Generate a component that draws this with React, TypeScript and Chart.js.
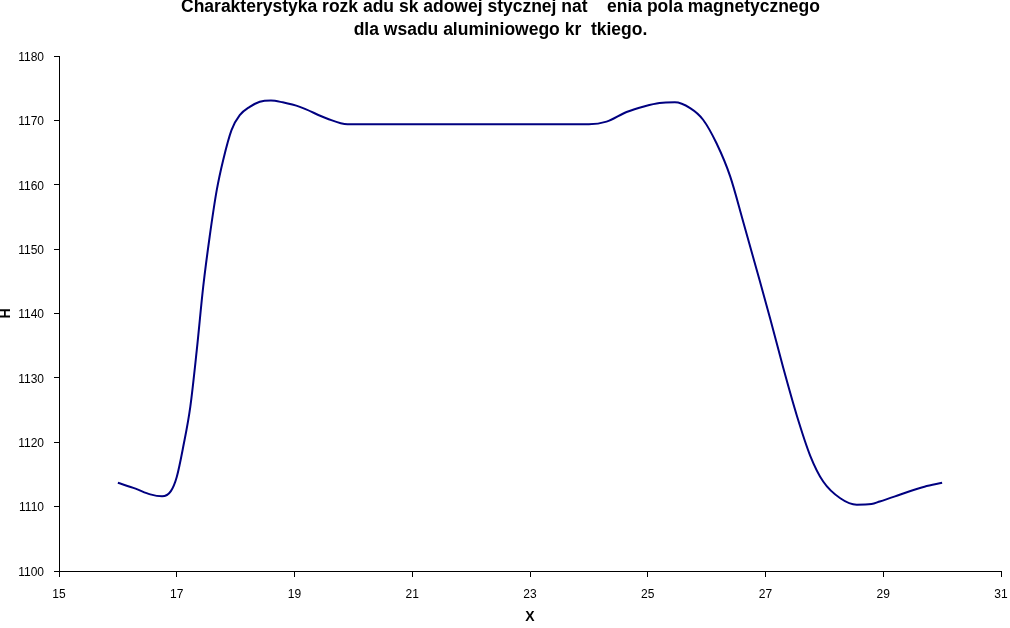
import React, { useEffect, useRef } from "react";
import { Chart, registerables } from "chart.js";

Chart.register(...registerables);

const titleLines = [
  "Charakterystyka rozk adu sk adowej stycznej nat    enia pola magnetycznego",
  "dla wsadu aluminiowego kr  tkiego.",
];
const xAxisTitle = "X";
const yAxisTitle = "H";

const xValues = [
  16, 16.3, 16.55, 16.75, 16.9, 17.0, 17.11, 17.23, 17.34, 17.45, 17.56, 17.68, 17.79,
  17.93, 18.07, 18.24, 18.41, 18.6, 18.8, 19.09, 19.55, 19.9, 20.5, 21, 22, 23, 24,
  24.3, 24.64, 24.95, 25.2, 25.46, 25.72, 25.94, 26.17, 26.4, 26.62, 26.85, 27.08,
  27.3, 27.53, 27.76, 27.98, 28.27, 28.55, 28.8, 28.94, 29.2, 29.45, 29.7, 30,
];
const hValues = [
  1113.7, 1112.8, 1111.9, 1111.6, 1112.4, 1114.6, 1119.3, 1125.5, 1134.3, 1144.2,
  1152.0, 1159.2, 1163.9, 1168.5, 1170.8, 1172.1, 1172.9, 1173.1, 1172.8, 1172.1,
  1170.3, 1169.4, 1169.4, 1169.4, 1169.4, 1169.4, 1169.4, 1169.8, 1171.3, 1172.2,
  1172.7, 1172.8, 1171.9, 1170.1, 1166.4, 1161.3, 1154.3, 1146.8, 1139.2, 1131.6,
  1124.2, 1117.9, 1113.9, 1111.3, 1110.3, 1110.4, 1110.8, 1111.6, 1112.4, 1113.1,
  1113.7,
];

const xMin = 15, xMax = 31, xStep = 2;
const yMin = 1100, yMax = 1180, yStep = 10;

const FONT = "'Liberation Sans', Arial, sans-serif";

export default function App() {
  const ref = useRef<HTMLCanvasElement>(null);
  useEffect(() => {
    if (!ref.current) return;
    const chart = new Chart(ref.current, {
      type: "line",
      data: {
        datasets: [
          {
            data: xValues.map((x, i) => ({ x, y: hValues[i] })),
            borderColor: "#000080",
            borderWidth: 2,
            pointRadius: 0,
            fill: false,
            cubicInterpolationMode: "monotone",
          },
        ],
      },
      options: {
        animation: false,
        responsive: false,
        devicePixelRatio: 1,
        layout: { padding: { left: 0, right: 9, top: 0, bottom: 0 } },
        plugins: {
          legend: { display: false },
          tooltip: { enabled: false },
          title: {
            display: true,
            text: titleLines,
            color: "#000",
            font: { family: FONT, size: 17.5, weight: "bold", lineHeight: "23px" },
            padding: { top: -4, bottom: 14 },
          },
        },
        scales: {
          x: {
            type: "linear",
            min: xMin,
            max: xMax,
            afterFit: (s: any) => {
              s.height = 57;
              s.paddingRight = 0;
              s.paddingLeft = 0;
            },
            ticks: {
              stepSize: xStep,
              color: "#000",
              font: { family: FONT, size: 12 },
              padding: 10,
              maxRotation: 0,
              callback: (v: any) => String(v),
            },
            grid: { drawOnChartArea: false, drawTicks: true, tickLength: 6, color: "#000" },
            border: { display: true, color: "#000", width: 1 },
            title: {
              display: true,
              text: xAxisTitle,
              color: "#000",
              font: { family: FONT, size: 14, weight: "bold" },
              padding: { top: 0, bottom: 2 },
            },
          },
          y: {
            type: "linear",
            min: yMin,
            max: yMax,
            afterFit: (s: any) => { s.width = 59; },
            ticks: {
              stepSize: yStep,
              color: "#000",
              font: { family: FONT, size: 12 },
              padding: 10,
              labelOffset: 1.5,
              callback: (v: any) => String(v),
            },
            grid: { drawOnChartArea: false, drawTicks: true, tickLength: 5, color: "#000" },
            border: { display: true, color: "#000", width: 1 },
            title: {
              display: true,
              text: yAxisTitle,
              color: "#000",
              font: { family: FONT, size: 14, weight: "bold" },
              padding: { top: -2, bottom: 0 },
            },
          },
        },
      },
    });
    return () => chart.destroy();
  }, []);
  return (
    <div style={{ position: "fixed", left: 0, top: 0, width: 1010, height: 628, background: "#fff" }}>
      <canvas ref={ref} width={1010} height={628} style={{ width: 1010, height: 628, display: "block" }} />
    </div>
  );
}
